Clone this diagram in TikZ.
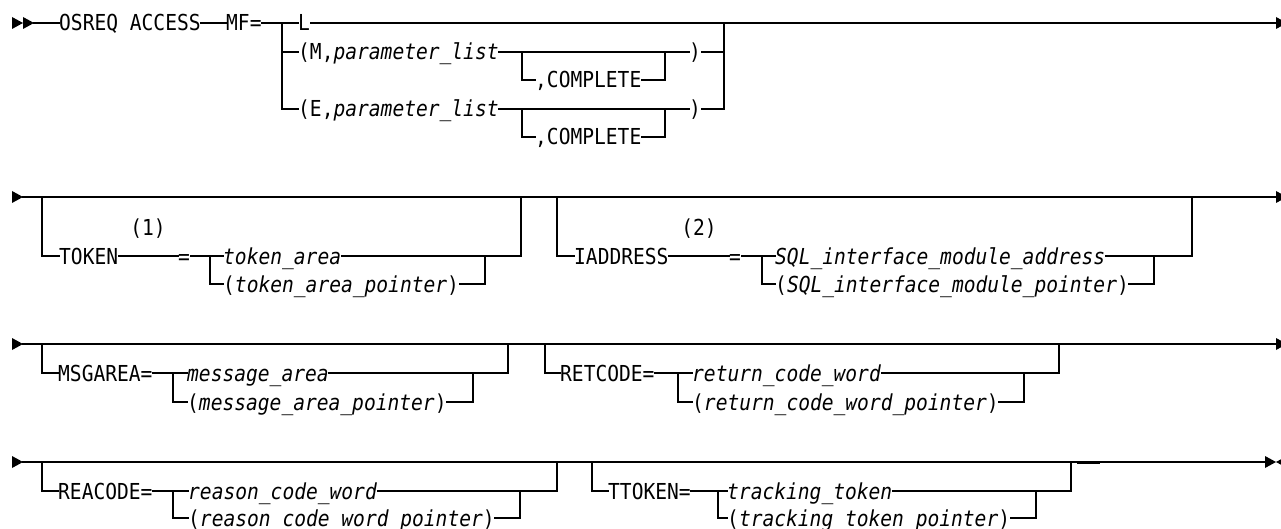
\documentclass[tikz,border=0pt]{standalone}
\usepackage{fontspec}
\newfontfamily\railfont[FakeStretch=0.89]{DejaVu Sans Mono}
\newcommand\railtext{\railfont\fontsize{22}{22}\selectfont}

\begin{document}
\begin{tikzpicture}[x=1pt, y=-1pt,
  lbl/.style={anchor=west, inner sep=0pt, font=\railtext,
              text height=16pt, text depth=0pt},
  note/.style={anchor=center, inner sep=0pt, font=\railtext,
               text height=16pt, text depth=0pt},
  rail/.style={line width=1.3pt, line cap=rect},
  tipright/.style={fill=black},
]
\useasboundingbox (0,0) rectangle (1281,529);

% ---------------- line 1: OSREQ ACCESS MF= ----------------
\coordinate (a1) at (12,23);
\coordinate (a2) at (23,23);
\coordinate (s1) at (34,23);
\fill[tipright] (a1) ++(0,-6) -- ++(11,6) -- ++(-11,6) -- cycle;
\fill[tipright] (a2) ++(0,-6) -- ++(11,6) -- ++(-11,6) -- cycle;

\node[lbl] (osreq) at (59,23) {OSREQ ACCESS};
\node[lbl] (mf)    at (226,23) {MF=};
\coordinate (j1) at (282,23);
\node[lbl] (ell) at (298,23) {L};
\node[lbl] (pm)  at (298,52) {(M,\textit{parameter\_list}};
\coordinate (jm) at (522,52);
\node[lbl] (cm)  at (535,80) {,COMPLETE};
\coordinate (km) at (665,52);
\node[lbl] (rpm) at (689,52) {)};
\node[lbl] (pe)  at (298,109) {(E,\textit{parameter\_list}};
\coordinate (je) at (522,109);
\node[lbl] (ce)  at (535,137) {,COMPLETE};
\coordinate (ke) at (665,109);
\node[lbl] (rpe) at (689,109) {)};
\coordinate (r1) at (724,23);
\coordinate (e1) at (1276,23);

\draw[rail] (s1) -- (osreq.west);
\draw[rail] (osreq.east) -- (mf.west);
\draw[rail] (mf.east) -- (j1) -- (ell.west);
\draw[rail] (ell.east) -- (e1);
\draw[rail] (j1) |- (pe.west);
\draw[rail] (j1 |- pm.west) -- (pm.west);
\draw[rail] (pm.east) -- (jm) -- (km) -- (rpm.west);
\draw[rail] (jm) |- (cm.west);
\draw[rail] (cm.east) -| (km);
\draw[rail] (rpm.east) -- (r1 |- rpm.east);
\draw[rail] (pe.east) -- (je) -- (ke) -- (rpe.west);
\draw[rail] (je) |- (ce.west);
\draw[rail] (ce.east) -| (ke);
\draw[rail] (rpe.east) -| (r1);
\fill[tipright] (e1) ++(0,-6) -- ++(11,6) -- ++(-11,6) -- cycle;

% ---------------- line 2: TOKEN, IADDRESS ----------------
\coordinate (a3) at (12,197);
\coordinate (s2) at (23,197);
\coordinate (e2) at (1276,197);
\fill[tipright] (a3) ++(0,-6) -- ++(11,6) -- ++(-11,6) -- cycle;
\draw[rail] (s2) -- (e2);
\fill[tipright] (e2) ++(0,-6) -- ++(11,6) -- ++(-11,6) -- cycle;

\coordinate (bt) at (42,197);
\node[lbl]  (tok) at (59,256) {TOKEN};
\node[note] (n1)  at (148,228) {(1)};
\node[lbl]  (eq1) at (178,256) {=};
\coordinate (jt) at (210,256);
\node[lbl]  (ta)  at (223,256) {\textit{token\_area}};
\node[lbl]  (tap) at (223,284) {(\textit{token\_area\_pointer})};
\coordinate (kt) at (485,256);
\coordinate (rt) at (521,197);
\draw[rail] (bt) |- (tok.west);
\draw[rail] (tok.east) -- (eq1.west);
\draw[rail] (eq1.east) -- (jt) -- (ta.west);
\draw[rail] (jt) |- (tap.west);
\draw[rail] (tap.east) -| (kt);
\draw[rail] (ta.east) -| (rt);

\coordinate (bi) at (557,197);
\node[lbl]  (iad) at (574,256) {IADDRESS};
\node[note] (n2)  at (699,228) {(2)};
\node[lbl]  (eq2) at (729,256) {=};
\coordinate (ji) at (762,256);
\node[lbl]  (sqa) at (775,256) {\textit{SQL\_interface\_module\_address}};
\node[lbl]  (sqp) at (775,284) {(\textit{SQL\_interface\_module\_pointer})};
\coordinate (ki) at (1154,256);
\coordinate (ri) at (1192,197);
\draw[rail] (bi) |- (iad.west);
\draw[rail] (iad.east) -- (eq2.west);
\draw[rail] (eq2.east) -- (ji) -- (sqa.west);
\draw[rail] (ji) |- (sqp.west);
\draw[rail] (sqp.east) -| (ki);
\draw[rail] (sqa.east) -| (ri);

% ---------------- line 3: MSGAREA, RETCODE ----------------
\coordinate (a4) at (12,344);
\coordinate (s3) at (23,344);
\coordinate (e3) at (1276,344);
\fill[tipright] (a4) ++(0,-6) -- ++(11,6) -- ++(-11,6) -- cycle;
\draw[rail] (s3) -- (e3);
\fill[tipright] (e3) ++(0,-6) -- ++(11,6) -- ++(-11,6) -- cycle;

\coordinate (bm) at (42,344);
\node[lbl] (msg) at (58,373) {MSGAREA=};
\coordinate (jmg) at (173,373);
\node[lbl] (ma)  at (187,373) {\textit{message\_area}};
\node[lbl] (map) at (187,402) {(\textit{message\_area\_pointer})};
\coordinate (kmg) at (473,373);
\coordinate (rmg) at (508,344);
\draw[rail] (bm) |- (msg.west);
\draw[rail] (msg.east) -- (jmg) -- (ma.west);
\draw[rail] (jmg) |- (map.west);
\draw[rail] (map.east) -| (kmg);
\draw[rail] (ma.east) -| (rmg);

\coordinate (br) at (545,344);
\node[lbl] (ret) at (560,373) {RETCODE=};
\coordinate (jr) at (678,373);
\node[lbl] (rc)  at (692,373) {\textit{return\_code\_word}};
\node[lbl] (rcp) at (692,402) {(\textit{return\_code\_word\_pointer})};
\coordinate (kr) at (1024,373);
\coordinate (rr) at (1059,344);
\draw[rail] (br) |- (ret.west);
\draw[rail] (ret.east) -- (jr) -- (rc.west);
\draw[rail] (jr) |- (rcp.west);
\draw[rail] (rcp.east) -| (kr);
\draw[rail] (rc.east) -| (rr);

% ---------------- line 4: REACODE, TTOKEN ----------------
\coordinate (a5) at (12,462);
\coordinate (s4) at (23,462);
\coordinate (e4) at (1265,462);
\coordinate (e5) at (1287,462);
\fill[tipright] (a5) ++(0,-6) -- ++(11,6) -- ++(-11,6) -- cycle;
\draw[rail] (s4) -- (e4);
\fill[tipright] (e4) ++(0,-6) -- ++(11,6) -- ++(-11,6) -- cycle;
\fill[tipright] (e5) ++(0,-6) -- ++(-11,6) -- ++(11,6) -- cycle;

\coordinate (bre) at (42,462);
\node[lbl] (rea) at (58,491) {REACODE=};
\coordinate (jre) at (173,491);
\node[lbl] (rw)  at (188,491) {\textit{reason\_code\_word}};
\node[lbl] (rwp) at (188,518) {(\textit{reason code word pointer})};
\coordinate (kre) at (520,491);
\coordinate (rre) at (557,462);
\draw[rail] (bre) |- (rea.west);
\draw[rail] (rea.east) -- (jre) -- (rw.west);
\draw[rail] (jre) |- (rwp.west);
\draw[rail] (rwp.east) -| (kre);
\draw[rail] (rw.east) -| (rre);

\coordinate (btt) at (592,462);
\node[lbl] (tt)  at (608,491) {TTOKEN=};
\coordinate (jtt) at (718,491);
\node[lbl] (tk)  at (727,491) {\textit{tracking\_token}};
\node[lbl] (tkp) at (727,518) {(\textit{tracking token pointer})};
\coordinate (ktt) at (1036,491);
\coordinate (rtt) at (1071,462);
\draw[rail] (btt) |- (tt.west);
\draw[rail] (tt.east) -- (jtt) -- (tk.west);
\draw[rail] (jtt) |- (tkp.west);
\draw[rail] (tkp.east) -| (ktt);
\draw[rail] (tk.east) -| (rtt);

% short offset stroke after the TTOKEN group
\coordinate (sd1) at (1077,463.5);
\coordinate (sd2) at (1100,463.5);
\draw[line width=0.9pt] (sd1) -- (sd2);
\end{tikzpicture}
\end{document}
